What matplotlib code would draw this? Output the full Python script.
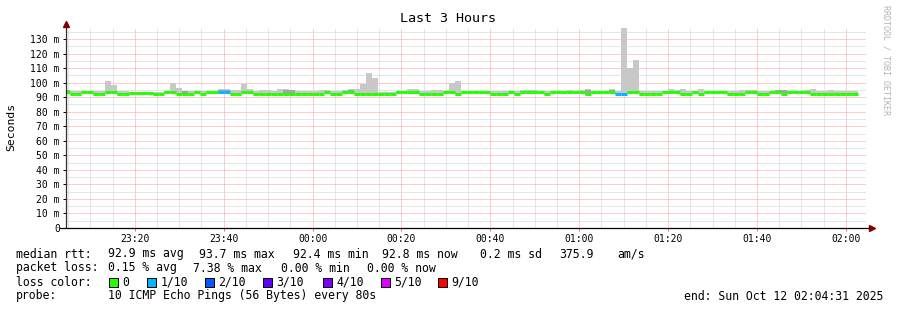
import matplotlib
matplotlib.use("Agg")
import matplotlib.pyplot as plt
from matplotlib.patches import Rectangle
from matplotlib.ticker import MultipleLocator, FuncFormatter
import numpy as np

W, H = 897, 310
plt.rcParams['font.family'] = ['DejaVu Sans Mono']

# time in minutes after 23:00, one bin every 80 s, first bin starts at 23:04:00
bin_start = 4.0
bin_step = 80 / 60.0
view_start = 4 + 31 / 60.0   # 23:04:31
view_end = view_start + 180  # 02:04:31

# median rtt per bin (ms)
median = [
    93.4, 92.5, 92.5, 93.4, 93.4, 92.5, 92.5, 93.4, 93.4, 92.5,
    92.5, 93.0, 93.0, 93.0, 93.0, 92.5, 92.5, 93.4, 93.4, 92.5,
    92.5, 92.5, 93.4, 92.5, 93.4, 93.4, 93.4, 93.4, 92.5, 92.5,
    93.4, 93.4, 92.5, 92.5, 92.5, 92.5, 92.5, 92.5, 92.5, 92.5,
    92.5, 92.5, 92.5, 92.5, 93.4, 92.5, 92.5, 93.4, 93.4, 92.5,
    92.5, 92.5, 92.5, 92.5, 92.5, 92.5, 93.4, 93.4, 93.4, 93.4,
    92.5, 92.5, 92.5, 92.5, 93.4, 93.4, 92.5, 93.4, 93.4, 93.4,
    93.4, 93.4, 92.5, 92.5, 92.5, 93.4, 92.5, 93.4, 93.4, 93.4,
    93.4, 92.5, 93.4, 93.4, 93.4, 93.4, 93.4, 93.4, 92.5, 93.4,
    93.4, 93.4, 93.4, 92.5, 92.5, 93.4, 93.4, 92.5, 92.5, 92.5,
    92.5, 93.4, 93.4, 93.4, 92.5, 92.5, 93.4, 92.5, 93.4, 93.4,
    93.4, 93.4, 92.5, 92.5, 92.5, 93.4, 93.4, 92.5, 92.5, 93.4,
    93.4, 92.5, 93.4, 93.4, 93.4, 93.4, 92.5, 92.5, 92.5, 92.5,
    92.5, 92.5, 92.5, 92.5,
]

# slowest ping per bin (top of the smoke, ms)
ping_max = [
    95.0, 94.2, 94.2, 94.5, 94.5, 94.2, 94.2, 101.1, 98.4, 94.0,
    94.0, 93.8, 93.8, 93.8, 93.6, 93.3, 93.6, 94.5, 100.0, 96.3,
    94.0, 94.0, 94.0, 94.0, 94.5, 94.5, 95.6, 95.6, 95.0, 95.0,
    99.0, 95.6, 94.0, 95.0, 95.0, 94.5, 95.6, 95.6, 95.0, 94.2,
    94.2, 94.0, 94.0, 95.0, 95.0, 94.5, 94.5, 95.0, 95.6, 95.6,
    99.0, 106.6, 103.2, 93.8, 93.8, 93.8, 94.2, 94.2, 95.6, 95.6,
    94.2, 94.2, 95.0, 95.0, 94.5, 100.0, 101.1, 94.4, 94.4, 94.2,
    94.4, 94.2, 94.2, 94.0, 94.0, 94.2, 94.0, 95.0, 95.0, 95.0,
    94.2, 94.0, 94.2, 94.2, 94.2, 95.0, 94.2, 95.0, 95.6, 94.4,
    94.4, 94.6, 95.6, 94.0, 138.0, 109.8, 115.6, 94.4, 94.4, 94.2,
    94.2, 94.4, 95.6, 95.0, 95.6, 94.5, 94.2, 95.6, 94.4, 94.2,
    94.2, 94.2, 94.0, 94.2, 95.0, 95.0, 95.0, 94.2, 94.0, 94.5,
    94.4, 94.0, 94.0, 94.0, 94.2, 95.0, 95.6, 94.4, 94.2, 95.0,
    94.6, 94.2, 94.2, 94.2,
]

# bins where the darker inner smoke shows above the median line
dark_peaks = {0: 94.9, 17: 94.6, 20: 94.4, 26: 95.0, 27: 95.0, 37: 94.9,
              38: 94.9, 48: 95.0, 88: 95.0, 92: 95.0, 120: 94.8, 121: 94.8,
              122: 94.6}

# lost pings out of 10, per bin
loss = [0] * len(median)
for i in (26, 27, 93, 94):
    loss[i] = 1

loss_labels = ["0", "1/10", "2/10", "3/10", "4/10", "5/10", "9/10"]
loss_colors = ["#26ff00", "#00b8ff", "#0059ff", "#5e00ff", "#7e00ff", "#dd00ff", "#ff0000"]
loss_color_of = {0: "#26ff00", 1: "#00b8ff", 2: "#0059ff", 3: "#5e00ff",
                 4: "#7e00ff", 5: "#dd00ff", 9: "#ff0000"}

rtt_stats = ["92.9 ms avg", "93.7 ms max", "92.4 ms min", "92.8 ms now", "0.2 ms sd", "375.9", "am/s"]
loss_stats = ["0.15 % avg", "7.38 % max", "0.00 % min", "0.00 % now"]

n = len(median)
edges = bin_start + bin_step * np.arange(n + 1)
med = np.array(median)
lo = med - 0.7
dark_top = np.array([dark_peaks.get(i, m) for i, m in enumerate(median)])

fig = plt.figure(figsize=(W / 100, H / 100), dpi=100)
ax = fig.add_axes([66 / W, (H - 228) / H, 800 / W, 200 / H])

ax.fill_between(edges, np.append(lo, lo[-1]), np.append(ping_max, ping_max[-1]),
                step='post', color='#c8c8c8', lw=0)
ax.fill_between(edges, np.append(med - 0.5, med[-1] - 0.5), np.append(dark_top, dark_top[-1]),
                step='post', color='#a4a4a4', lw=0)
ax.hlines(med, edges[:-1], edges[1:], colors=[loss_color_of[l] for l in loss], lw=2.2)

ax.set_xlim(view_start, view_end)
ax.set_ylim(0, 137.6)

ax.xaxis.set_major_locator(MultipleLocator(20))
ax.xaxis.set_minor_locator(MultipleLocator(5))
ax.yaxis.set_major_locator(MultipleLocator(10))
ax.yaxis.set_minor_locator(MultipleLocator(5))


def hhmm(m, pos):
    t = int(round(m)) + 23 * 60
    return "%02d:%02d" % ((t // 60) % 24, t % 60)


def msec(v, pos):
    if abs(v) < 1e-9:
        return "0"
    return "%d m" % round(v)


ax.xaxis.set_major_formatter(FuncFormatter(hhmm))
ax.yaxis.set_major_formatter(FuncFormatter(msec))

ax.set_axisbelow(True)
ax.grid(which='minor', color='#cfcfcf', ls=(0, (1, 1)), lw=0.72)
ax.grid(which='major', color='#ff9c9c', ls=(0, (1, 1)), lw=0.72)

ax.tick_params(axis='both', which='major', labelsize=7, colors='#000000',
               length=2.5, width=0.72, pad=2)
ax.tick_params(axis='x', which='major', pad=1.5, color='#ff6060')
ax.tick_params(axis='both', which='minor', length=0)

for s in ax.spines.values():
    s.set_visible(False)

# axes with arrow heads
ax.plot([0, 0], [0, 1.02], transform=ax.transAxes, clip_on=False, color='#303030', lw=0.9)
ax.plot([-6 / 800, 1.0075], [0, 0], transform=ax.transAxes, clip_on=False, color='#000000', lw=0.9)
ax.plot([0], [1.02], transform=ax.transAxes, clip_on=False, marker='^', ms=4,
        color='#800000', mec='#800000')
ax.plot([1.0075], [0], transform=ax.transAxes, clip_on=False, marker='>', ms=4,
        color='#800000', mec='#800000')


def put(x, y, s, **kw):
    fig.text(x / W, 1 - y / H, s, va='center', fontsize=8.3, color='#000000', **kw)


fig.text(448 / W, 1 - 19 / H, "Last 3 Hours", ha='center', va='center', fontsize=9.6)
fig.text(11 / W, 1 - 127 / H, "Seconds", rotation=90, ha='center', va='center', fontsize=8.2)
fig.text(886 / W, 1 - 5 / H, "RRDTOOL / TOBI OETIKER", rotation=-90, ha='center', va='top',
         fontsize=6, color='#b4b4b4')

put(16, 254, "median rtt:")
for x, s in zip([107.5, 199, 293, 382, 480, 559, 617], rtt_stats):
    put(x, 254, s)

put(16, 268, "packet loss:")
for x, s in zip([108, 192.5, 280.5, 367], loss_stats):
    put(x, 268, s)

put(16, 282, "loss color:")
for x, lab, c in zip([109, 147, 205, 263, 323, 381, 438], loss_labels, loss_colors):
    fig.add_artist(Rectangle((x / W, 1 - 286.5 / H), 9 / W, 9 / H, transform=fig.transFigure,
                             facecolor=c, edgecolor='#000000', lw=0.72))
    put(x + 13.5, 282, lab)

put(16, 296, "probe:")
put(108, 296, "10 ICMP Echo Pings (56 Bytes) every 80s")
put(883, 296, "end: Sun Oct 12 02:04:31 2025", ha='right')

fig.savefig("out.png", dpi=100, facecolor='white')
